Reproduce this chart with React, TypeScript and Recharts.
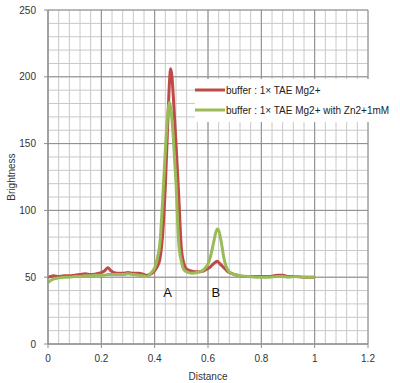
import React from 'react';
import {
  LineChart, Line, XAxis, YAxis, CartesianGrid, ReferenceDot, Label,
} from 'recharts';

const distance = [
  0, 0.01, 0.02, 0.04, 0.06, 0.08, 0.10, 0.12, 0.14, 0.16, 0.18, 0.20, 0.21, 0.225, 0.235, 0.245,
  0.26, 0.28, 0.30, 0.32, 0.34, 0.36, 0.37, 0.38, 0.39, 0.40, 0.41, 0.42, 0.43, 0.44, 0.45, 0.455,
  0.46, 0.465, 0.47, 0.48, 0.49, 0.50, 0.51, 0.52, 0.54, 0.56, 0.58, 0.59, 0.60, 0.61, 0.62, 0.63,
  0.635, 0.64, 0.65, 0.66, 0.67, 0.68, 0.70, 0.72, 0.75, 0.78, 0.80, 0.83, 0.86, 0.88, 0.90, 0.93,
  0.96, 1.00,
];

const bufferMg = [
  50, 50.5, 51, 50.5, 51, 51, 51.5, 52, 52.5, 52, 52.5, 53.5, 54.5, 57, 55, 53.5,
  53, 53, 53.5, 53, 53, 52, 51.5, 52, 53, 55, 58, 64, 82, 118, 170, 194,
  206, 200, 185, 150, 112, 72, 60, 56, 54.5, 54, 54.5, 55.5, 56.5, 58, 60, 61.5,
  62, 61, 59, 57, 55, 53.5, 52, 51, 50.5, 50.5, 50.5, 50.5, 51.5, 51.5, 50.5, 50.5,
  50, 50,
];

const bufferMgZn = [
  46, 47.5, 48.5, 49.5, 50, 50, 50.5, 50.5, 51, 51, 51.5, 51.5, 51.5, 52, 52, 52,
  52, 52, 52.5, 52, 51.5, 51, 50.5, 51.5, 54, 57, 64, 76, 108, 145, 174, 181,
  177, 168, 154, 120, 76, 62, 55.5, 54, 53, 53.5, 55, 57, 60, 66, 75, 84,
  86, 85, 76, 64, 57, 54, 52, 51, 50.5, 50, 50, 50, 50.5, 50.5, 50, 50.5,
  50, 50,
];

const seriesNames = ['buffer : 1\u00D7 TAE Mg2+', 'buffer : 1\u00D7 TAE Mg2+ with Zn2+1mM'];
const seriesColors = ['#BE4B48', '#9BBB59'];

const xTicks = [0, 0.2, 0.4, 0.6, 0.8, 1, 1.2];
const yTicks = [0, 50, 100, 150, 200, 250];
const xMinor = Array.from({ length: 31 }, (_, i) => Math.round(i * 4) / 100);
const yMinor = Array.from({ length: 26 }, (_, i) => i * 10);

const peakLabels = [
  { name: 'A', x: 0.448, y: 39 },
  { name: 'B', x: 0.629, y: 39 },
];

const data = distance.map((d, i) => ({ d, a: bufferMg[i], b: bufferMgZn[i] }));

const FONT = '"Liberation Sans", Arial, sans-serif';

const LegendBox = () => (
  <div style={{ position: 'absolute', left: 195, top: 79, background: '#fff', width: 205, height: 43, fontFamily: FONT, fontSize: 10, color: '#222' }}>
    {seriesNames.map((n, i) => (
      <div key={n} style={{ position: 'absolute', left: 0, top: 5 + i * 20, height: 12, display: 'flex', alignItems: 'center', whiteSpace: 'nowrap' }}>
        <svg width={30} height={6} style={{ display: 'block' }}>
          <line x1={0} y1={3} x2={30} y2={3} stroke={seriesColors[i]} strokeWidth={3} />
        </svg>
        <span style={{ marginLeft: 1 }}>{n}</span>
      </div>
    ))}
  </div>
);

export default function App() {
  return (
    <div style={{ position: 'absolute', left: 0, top: 0, width: 400, height: 383, background: '#fff' }}>
      <LineChart width={400} height={383} data={data} margin={{ top: 10, right: 32, bottom: 9, left: 8 }}>
        <CartesianGrid stroke="#c8c8c8" horizontalValues={yMinor} verticalValues={xMinor} />
        <CartesianGrid stroke="#8c8c8c" horizontalValues={yTicks} verticalValues={xTicks} />
        <XAxis
          dataKey="d"
          type="number"
          domain={[0, 1.2]}
          ticks={xTicks}
          interval={0}
          height={30}
          tickSize={4}
          tickMargin={7}
          stroke="#8c8c8c"
          tick={{ fill: '#333', fontSize: 10, fontFamily: FONT }}
        >
          <Label value="Distance" position="insideBottom" offset={-6} style={{ fill: '#333', fontSize: 10, fontFamily: FONT }} />
        </XAxis>
        <YAxis
          type="number"
          domain={[0, 250]}
          ticks={yTicks}
          interval={0}
          width={40}
          tickSize={4}
          tickMargin={8}
          stroke="#8c8c8c"
          tick={{ fill: '#333', fontSize: 10, fontFamily: FONT }}
        >
          <Label value="Brightness" angle={-90} position="insideLeft" offset={3} style={{ fill: '#333', fontSize: 10, fontFamily: FONT, textAnchor: 'middle' }} />
        </YAxis>
        <Line dataKey="a" name={seriesNames[0]} stroke={seriesColors[0]} strokeWidth={3} dot={false} isAnimationActive={false} type="monotone" />
        <Line dataKey="b" name={seriesNames[1]} stroke={seriesColors[1]} strokeWidth={3} dot={false} isAnimationActive={false} type="monotone" />
        {peakLabels.map((p) => (
          <ReferenceDot key={p.name} x={p.x} y={p.y} r={0} fill="none" stroke="none">
            <Label value={p.name} position="center" style={{ fill: '#111', fontSize: 13, fontFamily: FONT }} />
          </ReferenceDot>
        ))}
      </LineChart>
      <LegendBox />
    </div>
  );
}
